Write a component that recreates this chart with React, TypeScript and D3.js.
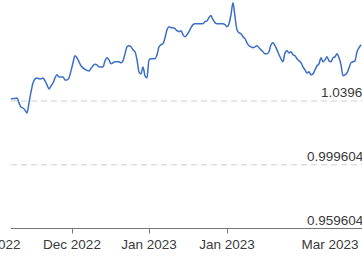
import React, { useEffect, useRef } from "react"
import * as d3 from "d3"

// exchange rate readings, evenly spaced observations
const rates = [
  1.0409, 1.0412, 1.0412, 1.0415, 1.0384, 1.0358, 1.0352, 1.0339, 1.032, 1.0384,
  1.0453, 1.0509, 1.0535, 1.0541, 1.0535, 1.0535, 1.0541, 1.0522, 1.0497, 1.0472,
  1.0491, 1.0509, 1.0541, 1.056, 1.0547, 1.0547, 1.0547, 1.0528, 1.0528, 1.0541,
  1.0585, 1.0636, 1.068, 1.0667, 1.0642, 1.0617, 1.0604, 1.0595, 1.0588, 1.0585,
  1.0601, 1.0617, 1.0626, 1.0623, 1.061, 1.061, 1.061, 1.0648, 1.0667, 1.0654,
  1.0629, 1.0636, 1.0642, 1.0642, 1.0642, 1.0636, 1.0648, 1.0692, 1.0736, 1.0743,
  1.0736, 1.0717, 1.0705, 1.0654, 1.0579, 1.0566, 1.061, 1.0554, 1.0541, 1.0654,
  1.0661, 1.0661, 1.0661, 1.0686, 1.0736, 1.0749, 1.0755, 1.0793, 1.0843, 1.0862,
  1.0856, 1.0856, 1.085, 1.0837, 1.0831, 1.0837, 1.0812, 1.0799, 1.0812, 1.0831,
  1.0856, 1.0875, 1.0881, 1.0881, 1.0881, 1.0881, 1.0881, 1.0894, 1.09, 1.0919,
  1.0932, 1.0906, 1.0888, 1.0881, 1.0881, 1.0881, 1.0881, 1.0875, 1.0862, 1.0881,
  1.0938, 1.1013, 1.0925, 1.0843, 1.0824, 1.0818, 1.0799, 1.0787, 1.0761, 1.0743,
  1.0736, 1.073, 1.0736, 1.0743, 1.073, 1.0717, 1.0705, 1.0692, 1.0692, 1.0705,
  1.0749, 1.0761, 1.0743, 1.0717, 1.0686, 1.0661, 1.0642, 1.0698, 1.0711, 1.0698,
  1.0705, 1.0686, 1.068, 1.0661, 1.0648, 1.0636, 1.061, 1.0591, 1.0572, 1.0579,
  1.056, 1.0566, 1.0591, 1.0617, 1.0629, 1.0667, 1.0642, 1.0654, 1.0673, 1.0648,
  1.0642, 1.0667, 1.0673, 1.0692, 1.0667, 1.0623, 1.0554, 1.056, 1.0572, 1.0604,
  1.0636, 1.0642, 1.0648, 1.0705, 1.073, 1.0749
]

const yTicks = [0.959604, 0.999604, 1.039604]

// month labels and the observation index they sit under
const xTickLabels = ["Nov 2022", "Dec 2022", "Jan 2023", "Jan 2023", "Mar 2023"]
const xTickIndex = [-9.75, 30.5, 69, 108, 159.5]
const xTickMark = [true, true, true, true, false]

const dimensions = { width: 362, height: 257 }
const font = "'Liberation Sans', Arial, Helvetica, sans-serif"

export default function App() {
  const ref = useRef(null)

  useEffect(() => {
    const svg = d3.select(ref.current)
    svg.selectAll("*").remove()

    const xScale = d3.scaleLinear().domain([0, rates.length - 1]).range([11, 361])
    const yScale = d3.scaleLinear().domain([0.959604, 1.039604]).range([228.5, 101])

    // dashed gridlines
    svg
      .append("g")
      .selectAll("line")
      .data(yTicks.slice(1))
      .enter()
      .append("line")
      .attr("x1", 11)
      .attr("x2", dimensions.width)
      .attr("y1", d => yScale(d))
      .attr("y2", d => yScale(d))
      .attr("stroke", "#cfcfcf")
      .attr("stroke-width", 1.2)
      .attr("stroke-dasharray", "6 4")

    // x axis line + ticks
    const axisY = yScale(0.959604)
    svg
      .append("line")
      .attr("x1", 11)
      .attr("x2", dimensions.width)
      .attr("y1", axisY)
      .attr("y2", axisY)
      .attr("stroke", "#777")
      .attr("stroke-width", 1)

    svg
      .append("g")
      .selectAll("line")
      .data(xTickIndex.filter((_, i) => xTickMark[i]))
      .enter()
      .append("line")
      .attr("x1", d => Math.round(xScale(d)) + 0.5)
      .attr("x2", d => Math.round(xScale(d)) + 0.5)
      .attr("y1", axisY)
      .attr("y2", axisY + 5)
      .attr("stroke", "#777")

    svg
      .append("g")
      .selectAll("text")
      .data(xTickLabels)
      .enter()
      .append("text")
      .attr("x", (_, i) => xScale(xTickIndex[i]))
      .attr("y", axisY + 20)
      .attr("text-anchor", "middle")
      .attr("font-family", font)
      .attr("font-size", 13.5)
      .attr("fill", "#3a3a3a")
      .text(d => d)

    // the rate line
    const line = d3
      .line<number>()
      .x((_, i) => xScale(i))
      .y(d => yScale(d))
      .curve(d3.curveMonotoneX)

    svg
      .append("path")
      .attr("d", line(rates))
      .attr("fill", "none")
      .attr("stroke", "#3b6fc6")
      .attr("stroke-width", 1.5)
      .attr("stroke-linejoin", "round")

    // y labels sit just above their gridline, running off the right edge
    svg
      .append("g")
      .selectAll("text")
      .data(yTicks)
      .enter()
      .append("text")
      .attr("x", d => (d > 1.02 ? 321 : 307))
      .attr("y", d => yScale(d) - 4)
      .attr("font-family", font)
      .attr("font-size", 13.5)
      .attr("fill", "#3a3a3a")
      .text(d => String(d))
  }, [])

  return (
    <svg
      ref={ref}
      width={dimensions.width}
      height={dimensions.height}
      style={{ position: "absolute", left: 0, top: 0, background: "white" }}
    ></svg>
  )
}
